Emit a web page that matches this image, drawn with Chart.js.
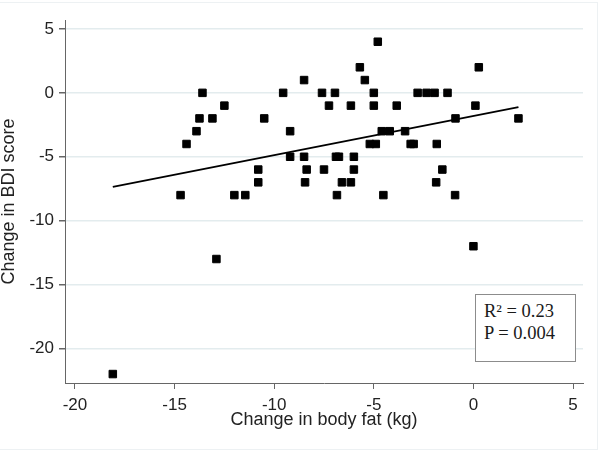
<!DOCTYPE html>
<html>
<head>
<meta charset="utf-8">
<script src="https://cdn.jsdelivr.net/npm/chart.js@4.4.1/dist/chart.umd.min.js"></script>
<style>
  html, body { margin: 0; padding: 0; background: #ffffff; }
  #wrap { position: relative; width: 600px; height: 453px; overflow: hidden; }
  #frame { position: absolute; left: -2px; top: 2px; width: 600px; height: 448px; box-sizing: border-box; border: 1px solid #edf1f3; pointer-events: none; }
  canvas { position: absolute; left: 0; top: 0; }
  #stats { position: absolute; left: 475px; top: 294px; width: 101px; height: 68px; box-sizing: border-box;
           border: 1px solid #8c8c8c; background: #ffffff; padding: 5px 0 0 8px;
           font-family: "Liberation Serif", "Times New Roman", serif; font-size: 18.5px; line-height: 22px; color: #1a1a1a; }
</style>
</head>
<body>
<div id="wrap">
  <canvas id="c" width="600" height="453"></canvas>
  <div id="frame"></div>
  <div id="stats">R² = 0.23<br>P = 0.004</div>
</div>
<script>
// Change in body fat (kg)
const fatChange = [-18.1, -14.7, -14.4, -13.9, -13.75, -13.6, -13.1, -12.9, -12.5, -12.0,
                   -11.45, -10.8, -10.8, -10.5, -9.55, -9.2, -9.2, -8.5, -8.5, -8.37,
                   -8.45, -7.6, -7.25, -7.5, -6.95, -6.9, -6.75, -6.85, -6.6, -6.15,
                   -6.15, -6.0, -6.0, -5.7, -5.45, -5.2, -5.0, -5.0, -4.9, -4.8,
                   -4.6, -4.2, -4.52, -3.85, -3.43, -3.15, -3.0, -2.8, -2.35, -1.95,
                   -1.3, -1.84, -1.56, -1.87, -0.92, -0.9, 0.1, 0.27, 2.26, 0.0];
// Change in BDI score
const bdiChange = [-22, -8, -4, -3, -2, 0, -2, -13, -1, -8,
                   -8, -6, -7, -2, 0, -3, -5, 1, -5, -6,
                   -7, 0, -1, -6, 0, -5, -5, -8, -7, -1,
                   -7, -5, -6, 2, 1, -4, 0, -1, -4, 4,
                   -3, -3, -8, -1, -3, -4, -4, 0, 0, 0,
                   0, -4, -6, -7, -8, -2, -1, 2, -2, -12];
// fitted regression line end points
const fitX = [-18.1, 2.26];
const fitY = [-7.36, -1.11];
// tick labels
const xTicks = [-20, -15, -10, -5, 0, 5];
const yTicks = [-20, -15, -10, -5, 0, 5];

const pts = fatChange.map((x, i) => ({ x: x, y: bdiChange[i] }));
const fit = fitX.map((x, i) => ({ x: x, y: fitY[i] }));

const tickFont = { family: "'Liberation Sans', Arial, sans-serif", size: 17 };
const titleFont = { family: "'Liberation Sans', Arial, sans-serif", size: 18, lineHeight: 1.2 };

new Chart(document.getElementById('c'), {
  type: 'scatter',
  data: {
    datasets: [
      { data: pts, pointStyle: 'rect', pointRadius: 5.3, pointBorderWidth: 1,
        backgroundColor: '#000000', borderColor: '#000000', order: 1 },
      { data: fit, showLine: true, pointRadius: 0, borderColor: '#000000', borderWidth: 1.8,
        fill: false, order: 2 }
    ]
  },
  options: {
    responsive: false,
    animation: false,
    devicePixelRatio: 1,
    layout: { padding: { top: 20, right: 17, bottom: 0, left: 0 } },
    plugins: { legend: { display: false }, tooltip: { enabled: false } },
    scales: {
      x: {
        type: 'linear', min: -20.5, max: 5.5,
        afterBuildTicks: s => { s.ticks = xTicks.map(v => ({ value: v })); },
        afterFit: s => { s.height = 70; },
        grid: { drawOnChartArea: false, drawTicks: true, tickLength: 6, tickColor: '#666666' },
        border: { display: true, color: '#666666', width: 1 },
        ticks: { font: tickFont, color: '#222222', padding: 6, maxRotation: 0 },
        title: { display: true, text: 'Change in body fat (kg)', font: titleFont, color: '#222222',
                 padding: { top: 0, bottom: 22 } }
      },
      y: {
        type: 'linear', min: -22.7, max: 5.7,
        afterBuildTicks: s => { s.ticks = yTicks.map(v => ({ value: v })); },
        afterFit: s => { s.width = 65; },
        grid: { drawOnChartArea: true, color: '#e3ecee', lineWidth: 1.5, drawTicks: true, tickLength: 6, tickColor: '#666666' },
        border: { display: true, color: '#666666', width: 1 },
        ticks: { font: tickFont, color: '#222222', padding: 5 },
        title: { display: true, text: 'Change in BDI score', font: { family: "'Liberation Sans', Arial, sans-serif", size: 18, lineHeight: 1 },
                 color: '#222222', padding: { top: 0, bottom: 0 } }
      }
    }
  }
});
</script>
</body>
</html>
